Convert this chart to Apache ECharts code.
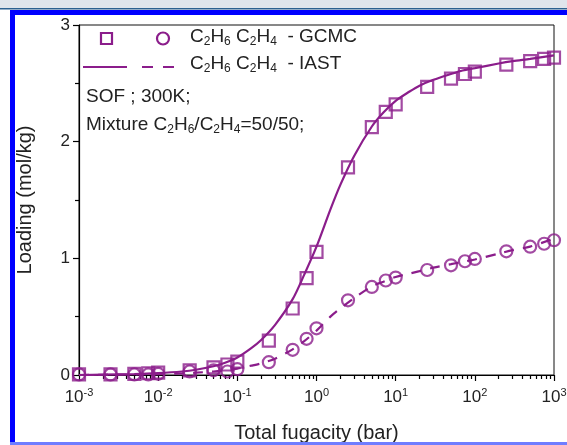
<!DOCTYPE html>
<html><head><meta charset="utf-8">
<script src="https://cdn.jsdelivr.net/npm/echarts@6/dist/echarts.min.js"></script>
<style>html,body{margin:0;padding:0;background:#fff}#c{width:567px;height:445px}</style>
</head><body><div id="c"></div>
<script>
// GCMC pressures (bar) and loadings (mol/kg)
const pressures = [0.001,0.0025,0.005,0.0075,0.01,0.025,0.05,0.075,0.1,0.25,0.5,0.75,1,2.5,5,7.5,10,25,50,75,100,250,500,750,1000];
const gcmcC2H6 = [0.005,0.005,0.01,0.015,0.02,0.04,0.065,0.09,0.115,0.295,0.57,0.83,1.055,1.78,2.125,2.255,2.32,2.47,2.54,2.58,2.60,2.66,2.69,2.71,2.72];
const gcmcC2H4 = [0.005,0.005,0.005,0.005,0.01,0.03,0.04,0.03,0.05,0.11,0.216,0.31,0.40,0.64,0.755,0.81,0.835,0.90,0.94,0.975,0.995,1.06,1.10,1.125,1.155];
// IAST curves
const iastP = [0.001,0.002,0.005,0.01,0.02,0.03,0.05,0.07,0.1,0.15,0.2,0.3,0.5,0.7,1,1.5,2,3,5,7,10,15,20,30,50,70,100,200,300,500,1000];
const iastC2H6 = [0.0,0.003,0.008,0.016,0.03,0.045,0.075,0.105,0.15,0.23,0.30,0.43,0.65,0.86,1.10,1.42,1.63,1.88,2.13,2.25,2.35,2.43,2.48,2.53,2.58,2.61,2.63,2.67,2.69,2.71,2.74];
const iastC2H4 = [0.0,0.002,0.005,0.008,0.014,0.02,0.03,0.04,0.055,0.08,0.10,0.14,0.22,0.29,0.38,0.50,0.57,0.66,0.76,0.80,0.84,0.87,0.89,0.92,0.95,0.97,0.99,1.04,1.07,1.10,1.17];
const yTicks = [0,1,2,3];

const PURPLE = '#8b1d8b';
const FONT = 'Liberation Sans, Arial, sans-serif';
const pair = (xs, ys) => xs.map((x, i) => [x, ys[i]]);

const chart = echarts.init(document.getElementById('c'));
const legendRich = {
  n: {fontSize: 19, fontFamily: FONT, fill: '#222', color: '#222'},
  sub: {fontSize: 12, fontFamily: FONT, fill: '#222', color: '#222', padding: [10, 0, 0, 0]}
};
function txt(x, y, text) {
  return {type: 'text', x: x, y: y, z: 100,
    style: {text: text, fill: '#222', font: '19px ' + FONT, verticalAlign: 'middle', align: 'left', rich: legendRich}};
}
const tickStyle = {color: '#000', width: 1.2};
chart.setOption({
  animation: false,
  backgroundColor: '#fff',
  grid: {left: 79, right: 13, top: 25, bottom: 70, outerBoundsMode: 'none', containLabel: false,
         show: true, borderColor: '#111', borderWidth: 1, backgroundColor: 'transparent'},
  xAxis: {
    type: 'log', logBase: 10, min: 0.001, max: 1000,
    name: 'Total fugacity (bar)', nameLocation: 'middle', nameGap: 48,
    nameTextStyle: {fontSize: 20, fontFamily: FONT, color: '#222'},
    axisLine: {show: true, onZero: false, lineStyle: {color: '#000', width: 1.2}},
    axisTick: {show: true, inside: false, length: 6, lineStyle: tickStyle},
    minorTick: {show: true, splitNumber: 9, length: 4, lineStyle: tickStyle},
    splitLine: {show: false}, minorSplitLine: {show: false},
    axisLabel: {
      margin: 12,
      formatter: v => '{b|10}{s|' + Math.round(Math.log10(v)) + '}',
      rich: {
        b: {fontSize: 17, fontFamily: FONT, color: '#222'},
        s: {fontSize: 11, fontFamily: FONT, color: '#222', padding: [0, 0, 9, 0]}
      }
    }
  },
  yAxis: {
    type: 'value', min: yTicks[0], max: yTicks[yTicks.length - 1], interval: 1,
    name: 'Loading (mol/kg)', nameLocation: 'middle', nameGap: 44,
    nameTextStyle: {fontSize: 20, fontFamily: FONT, color: '#222'},
    axisLine: {show: true, onZero: false, lineStyle: {color: '#000', width: 1.2}},
    axisTick: {show: true, inside: false, length: 6, lineStyle: tickStyle},
    minorTick: {show: true, splitNumber: 2, length: 4, lineStyle: tickStyle},
    splitLine: {show: false},
    axisLabel: {margin: 9, fontSize: 17, fontFamily: FONT, color: '#222'}
  },
  series: [
    {name: 'C2H6 IAST', type: 'line', data: pair(iastP, iastC2H6), smooth: 0.3, showSymbol: false, symbol: 'none',
     lineStyle: {color: PURPLE, width: 2.2}, z: 2},
    {name: 'C2H4 IAST', type: 'line', data: pair(iastP, iastC2H4), smooth: 0.3, showSymbol: false, symbol: 'none',
     lineStyle: {color: PURPLE, width: 2.2, type: [10, 9]}, z: 2},
    {name: 'C2H6 GCMC', type: 'scatter', data: pair(pressures, gcmcC2H6), symbol: 'rect', symbolSize: 12,
     itemStyle: {color: 'rgba(255,255,255,0)', borderColor: PURPLE, borderWidth: 2.2}, z: 3},
    {name: 'C2H4 GCMC', type: 'scatter', data: pair(pressures, gcmcC2H4), symbol: 'circle', symbolSize: 12,
     itemStyle: {color: 'rgba(255,255,255,0)', borderColor: PURPLE, borderWidth: 2.2}, z: 3}
  ],
  graphic: [
    // page frame
    {type: 'rect', shape: {x: 0, y: 0, width: 567, height: 8}, style: {fill: '#dfe5ec'}, z: 1},
    {type: 'rect', shape: {x: 0, y: 8, width: 567, height: 1.5}, style: {fill: '#2b6190'}, z: 1},
    {type: 'rect', shape: {x: 10, y: 10, width: 557, height: 5}, style: {fill: '#0000ff'}, z: 1},
    {type: 'rect', shape: {x: 10, y: 10, width: 5, height: 435}, style: {fill: '#0000ff'}, z: 1},
    {type: 'rect', shape: {x: 10, y: 442, width: 557, height: 3}, style: {fill: '#6f7dff'}, z: 1},
    // legend
    {type: 'rect', shape: {x: 101, y: 33, width: 11, height: 11}, style: {fill: 'none', stroke: PURPLE, lineWidth: 2.2}, z: 100},
    {type: 'circle', shape: {cx: 163, cy: 38.5, r: 6}, style: {fill: 'none', stroke: PURPLE, lineWidth: 2.2}, z: 100},
    {type: 'line', shape: {x1: 83, y1: 67, x2: 127, y2: 67}, style: {stroke: PURPLE, lineWidth: 2.2}, z: 100},
    {type: 'line', shape: {x1: 142, y1: 67, x2: 176, y2: 67}, style: {stroke: PURPLE, lineWidth: 2.2, lineDash: [11, 10]}, z: 100},
    txt(190, 37, '{n|C}{sub|2}{n|H}{sub|6}{n| C}{sub|2}{n|H}{sub|4}{n|  - GCMC}'),
    txt(190, 64, '{n|C}{sub|2}{n|H}{sub|6}{n| C}{sub|2}{n|H}{sub|4}{n|  - IAST}'),
    txt(86, 97, '{n|SOF ; 300K;}'),
    txt(86, 125, '{n|Mixture C}{sub|2}{n|H}{sub|6}{n|/C}{sub|2}{n|H}{sub|4}{n|=50/50;}')
  ]
});
</script></body></html>
